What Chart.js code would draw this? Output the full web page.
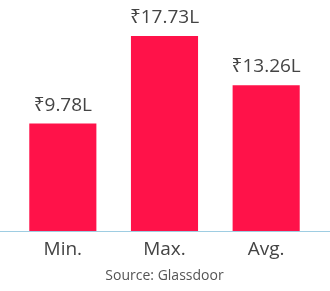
<!DOCTYPE html>
<html>
<head>
<meta charset="utf-8">
<script src="https://cdn.jsdelivr.net/npm/chart.js@4"></script>
<style>
  html, body { margin: 0; padding: 0; background: #ffffff; }
  #wrap { width: 330px; height: 291px; }
</style>
</head>
<body>
<div id="wrap"><canvas id="c" width="330" height="291"></canvas></div>
<script>
const categories = ["Min.", "Max.", "Avg."];
const salaryLakh = [9.78, 17.73, 13.26];
const valueLabels = ["₹9.78L", "₹17.73L", "₹13.26L"];
const sourceText = "Source: Glassdoor";

const FONT = "'Open Sans', 'Noto Sans', sans-serif";

const valueLabelPlugin = {
  id: 'valueLabels',
  afterDatasetsDraw(chart) {
    const ctx = chart.ctx;
    const meta = chart.getDatasetMeta(0);
    ctx.save();
    ctx.font = "19px " + FONT;
    ctx.fillStyle = "#444444";
    ctx.textAlign = "center";
    ctx.textBaseline = "alphabetic";
    meta.data.forEach((bar, i) => {
      ctx.fillText(valueLabels[i], bar.x, bar.y - 13);
    });
    ctx.restore();
  }
};

const baseLinePlugin = {
  id: 'baseLine',
  afterDatasetsDraw(chart) {
    const ctx = chart.ctx;
    const y = Math.round(chart.scales.y.getPixelForValue(0)) + 0.5;
    ctx.save();
    ctx.strokeStyle = "#9ecde2";
    ctx.lineWidth = 1;
    ctx.beginPath();
    ctx.moveTo(0, y);
    ctx.lineTo(chart.width, y);
    ctx.stroke();
    ctx.restore();
  }
};

new Chart(document.getElementById('c'), {
  type: 'bar',
  data: {
    labels: categories,
    datasets: [{
      data: salaryLakh,
      backgroundColor: "#ff1249",
      borderWidth: 0,
      categoryPercentage: 1,
      barPercentage: 0.66
    }]
  },
  options: {
    responsive: false,
    animation: false,
    devicePixelRatio: 1,
    layout: { padding: { left: 12, right: 13, top: 0, bottom: 0 } },
    plugins: {
      legend: { display: false },
      tooltip: { enabled: false },
      title: {
        display: true,
        text: sourceText,
        position: 'bottom',
        color: "#555555",
        font: { family: FONT, size: 14, weight: 'normal' },
        padding: { top: 7, bottom: 7 }
      }
    },
    scales: {
      x: {
        grid: { display: false },
        border: { display: false },
        ticks: {
          color: "#444444",
          font: { family: FONT, size: 19, lineHeight: 1.1 },
          padding: 0
        }
      },
      y: {
        display: false,
        min: 0,
        max: 21
      }
    }
  },
  plugins: [valueLabelPlugin, baseLinePlugin]
});
</script>
</body>
</html>
